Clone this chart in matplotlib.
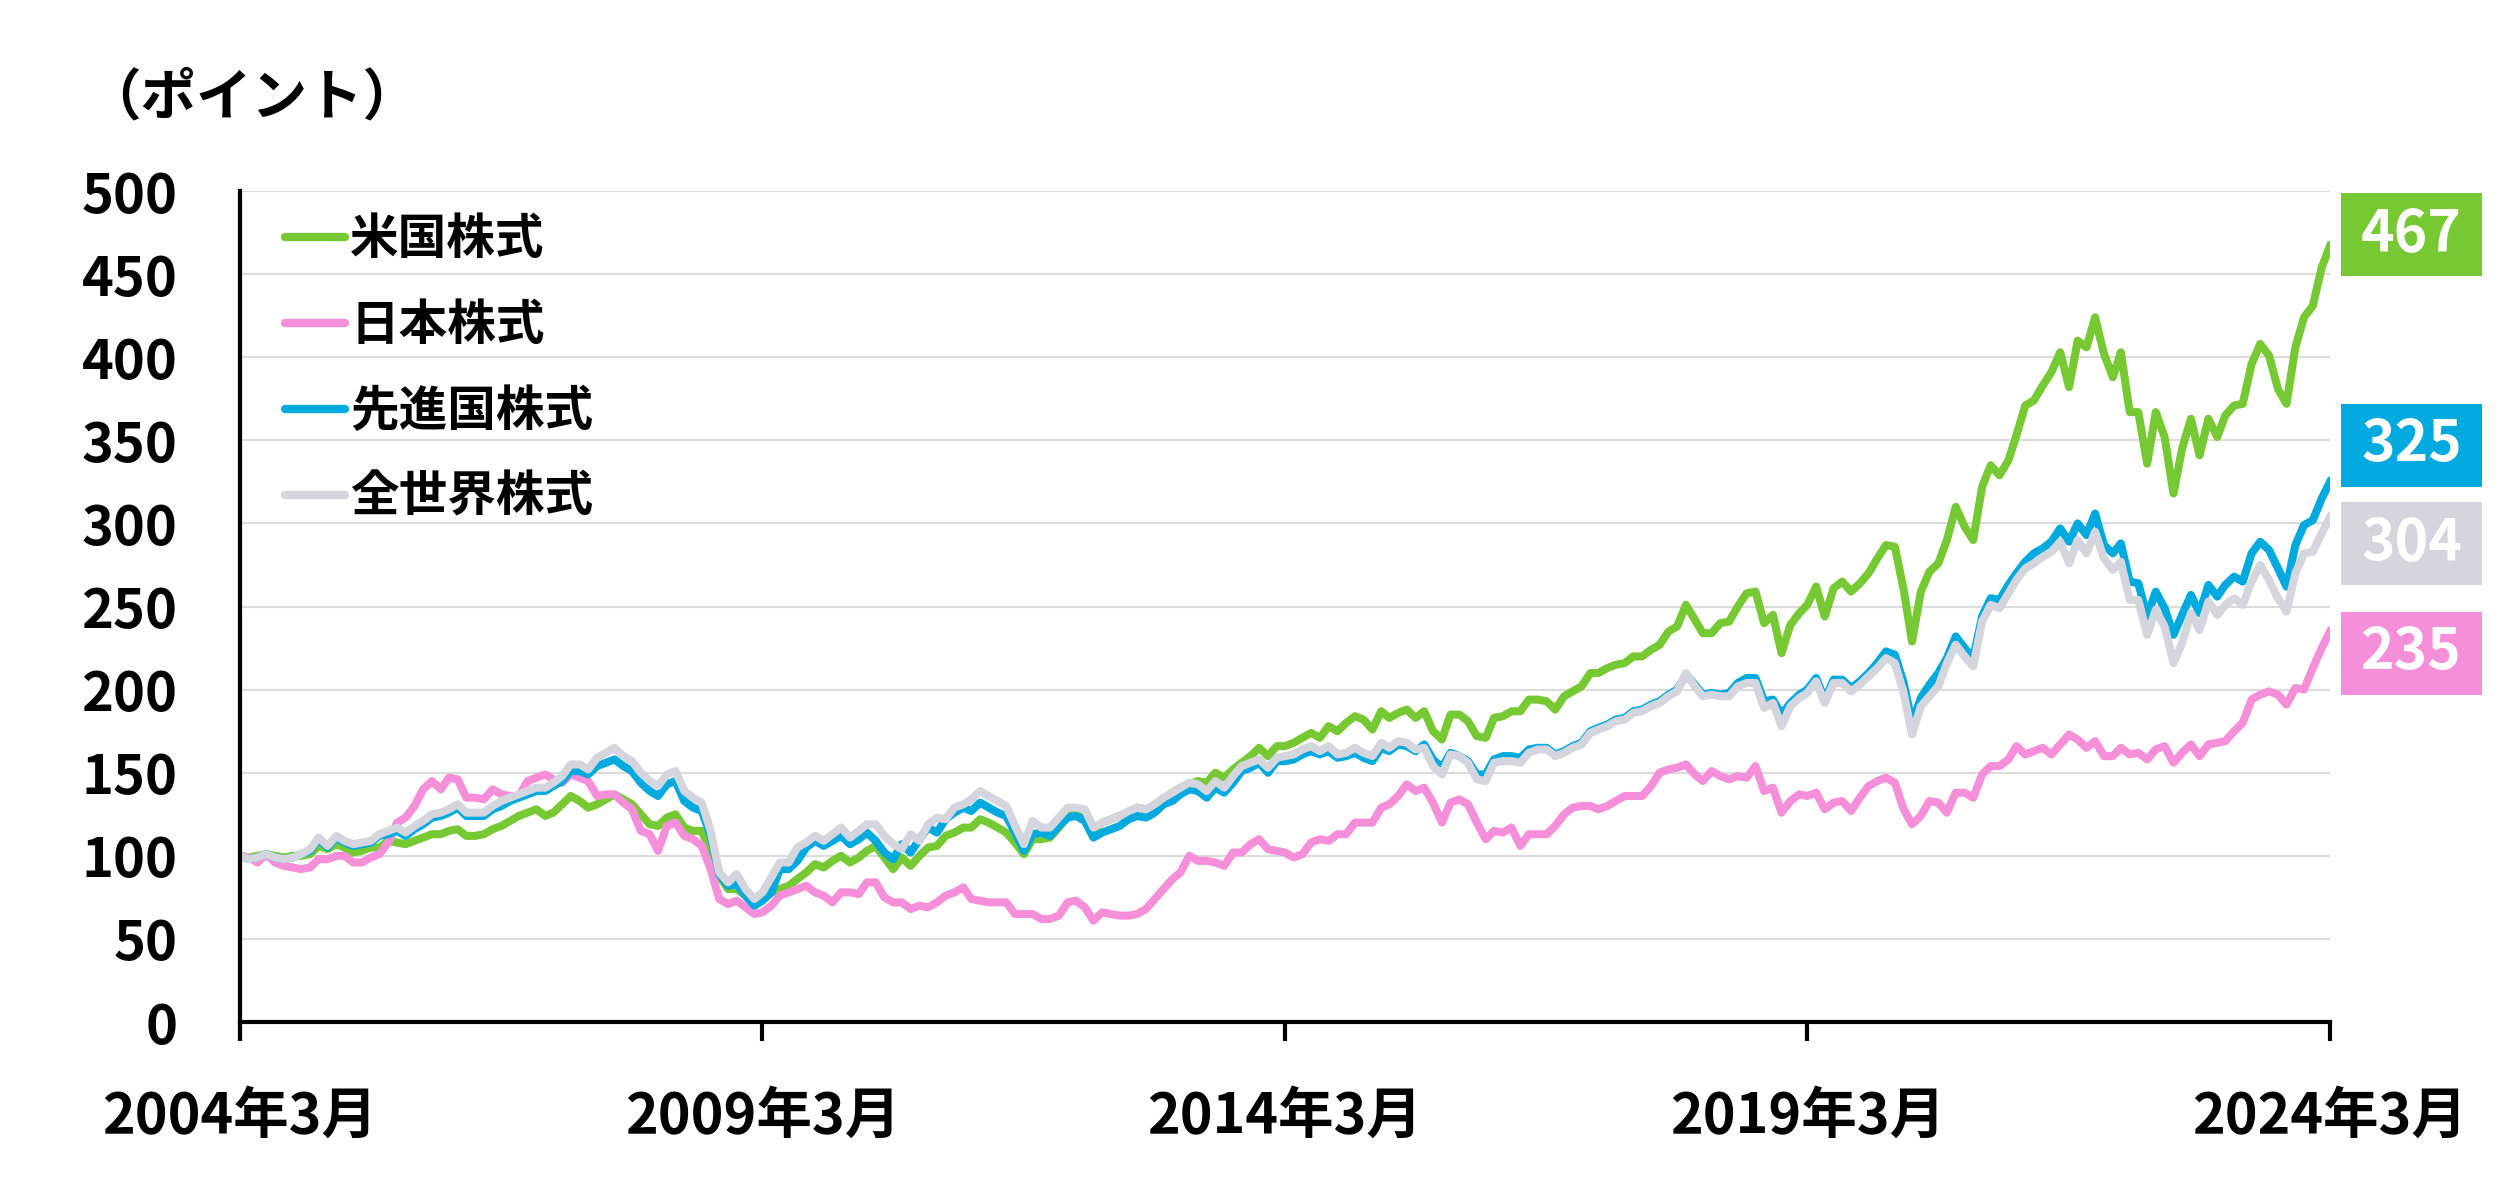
import matplotlib
matplotlib.use('Agg')
import matplotlib.pyplot as plt
import matplotlib.transforms as mtransforms
from matplotlib.patches import Rectangle
from matplotlib.lines import Line2D
import pandas as pd

plt.rcParams['font.family'] = ['Noto Sans CJK JP', 'DejaVu Sans']
plt.rcParams['font.weight'] = 'bold'

# monthly index values, 2004/03 = 100 (one row = one year from March)
us = [100, 99, 100, 101, 100, 99, 100, 100, 101, 106, 104, 107,
      105, 102, 103, 105, 105, 109, 108, 107, 109, 111, 113, 113,
      115, 116, 112, 112, 113, 116, 118, 121, 124, 126, 128, 124,
      126, 131, 136, 133, 129, 131, 134, 137, 134, 131, 125, 119,
      118, 123, 125, 117, 115, 115, 102, 88, 80, 80, 76, 71,
      74, 78, 80, 82, 86, 90, 95, 93, 97, 100, 96, 99,
      103, 106, 99, 92, 99, 94, 100, 105, 106, 112, 114, 117,
      117, 122, 120, 117, 114, 108, 101, 110, 110, 111, 117, 124,
      125, 122, 116, 120, 122, 124, 126, 129, 128, 130, 134, 138,
      141, 143, 145, 144, 150, 147, 152, 156, 160, 165, 160, 166,
      166, 168, 171, 174, 171, 178, 175, 180, 184, 182, 176, 187,
      183, 186, 188, 183, 187, 175, 170, 185, 185, 181, 172, 171,
      183, 184, 187, 187, 194, 194, 193, 188, 196, 199, 202, 210,
      210, 213, 215, 216, 220, 220, 224, 227, 235, 238, 251, 242,
      234, 234, 240, 241, 250, 258, 259, 240, 245, 222, 239, 246,
      251, 262, 244, 261, 265, 259, 264, 270, 279, 287, 286, 260,
      229, 259, 271, 276, 290, 310, 298, 290, 322, 335, 329, 338,
      353, 371, 374, 383, 391, 403, 382, 410, 406, 424, 402, 388,
      403, 367, 367, 336, 367, 352, 318, 345, 363, 341, 363, 352,
      365, 371, 372, 396, 408, 401, 381, 372, 406, 424, 431, 454,
      467]

japan = [100, 99, 96, 101, 96, 94, 93, 92, 93, 98, 98, 100,
         100, 96, 96, 99, 101, 108, 120, 123, 130, 140, 145, 140,
         147, 146, 135, 135, 134, 140, 137, 136, 136, 145, 147, 149,
         146, 144, 149, 147, 145, 136, 137, 137, 132, 128, 115, 113,
         103, 118, 120, 112, 110, 106, 92, 74, 71, 73, 69, 65,
         66, 70, 76, 78, 80, 82, 78, 76, 72, 78, 78, 77,
         84, 84, 75, 72, 72, 68, 70, 69, 72, 76, 78, 81,
         74, 73, 72, 72, 72, 65, 65, 65, 62, 62, 64, 72,
         73, 69, 61, 66, 65, 64, 64, 65, 68, 74, 80, 86,
         90, 100, 97, 97, 96, 94, 102, 102, 107, 110, 104, 103,
         102, 99, 101, 108, 110, 109, 113, 113, 120, 120, 120, 129,
         131, 136, 143, 139, 141, 132, 120, 132, 134, 131, 120, 110,
         115, 114, 117, 106, 113, 113, 113, 118, 125, 129, 130, 130,
         128, 130, 133, 136, 136, 136, 142, 150, 152, 153, 155, 149,
         145, 151, 148, 146, 148, 147, 154, 139, 141, 126, 133, 137,
         136, 138, 128, 132, 133, 127, 135, 142, 145, 147, 144, 128,
         119, 124, 133, 132, 126, 138, 138, 135, 149, 154, 154, 158,
         166, 161, 163, 165, 161, 167, 173, 170, 165, 169, 160, 160,
         165, 161, 162, 158, 164, 166, 156, 162, 167, 160, 167, 168,
         169, 175, 180, 194, 197, 199, 197, 191, 201, 200, 213, 225,
         235]

developed = [100, 98, 99, 101, 99, 98, 99, 101, 103, 110, 105, 111,
             108, 106, 107, 108, 112, 113, 115, 112, 116, 119, 123, 124,
             126, 129, 124, 124, 124, 128, 130, 133, 135, 137, 139, 139,
             142, 145, 151, 151, 149, 154, 156, 158, 154, 151, 144, 139,
             136, 143, 145, 133, 129, 127, 112, 89, 82, 83, 76, 70,
             73, 78, 92, 92, 97, 105, 109, 106, 109, 112, 107, 110,
             114, 109, 102, 98, 107, 102, 110, 117, 114, 122, 126, 129,
             127, 132, 129, 126, 124, 114, 103, 113, 114, 112, 118, 123,
             124, 121, 111, 114, 116, 118, 122, 124, 123, 126, 131, 133,
             137, 140, 139, 135, 141, 138, 144, 151, 153, 156, 150, 157,
             157, 158, 161, 163, 161, 163, 159, 160, 162, 159, 157, 165,
             163, 167, 166, 163, 167, 158, 153, 162, 160, 157, 149, 149,
             158, 160, 160, 159, 164, 165, 165, 161, 163, 166, 168, 175,
             177, 179, 182, 183, 187, 188, 191, 193, 197, 200, 209, 203,
             197, 198, 197, 198, 204, 207, 207, 193, 194, 185, 192, 197,
             200, 207, 194, 206, 206, 201, 205, 210, 216, 223, 221, 204,
             180, 195, 203, 210, 219, 232, 225, 219, 244, 255, 254, 263,
             270, 277, 282, 285, 289, 297, 289, 300, 293, 306, 287, 282,
             288, 265, 264, 244, 259, 249, 233, 245, 257, 246, 263, 256,
             263, 268, 265, 282, 289, 284, 273, 262, 287, 299, 302, 315,
             325]

world = [100, 98, 99, 101, 99, 98, 99, 101, 104, 111, 106, 112,
         109, 107, 108, 109, 113, 115, 117, 114, 118, 121, 125, 126,
         128, 131, 126, 126, 126, 130, 133, 135, 137, 139, 141, 141,
         144, 148, 155, 155, 152, 159, 162, 165, 160, 157, 150, 145,
         142, 149, 151, 139, 135, 132, 115, 90, 84, 89, 80, 74,
         78, 87, 96, 96, 105, 108, 112, 109, 113, 117, 111, 115,
         119, 119, 112, 107, 104, 113, 109, 119, 123, 122, 129, 131,
         134, 139, 136, 133, 130, 118, 107, 121, 117, 117, 123, 129,
         129, 128, 117, 120, 122, 124, 127, 129, 128, 131, 135, 138,
         141, 144, 143, 139, 145, 141, 148, 154, 156, 158, 153, 159,
         160, 161, 164, 166, 163, 166, 161, 162, 165, 162, 160, 168,
         165, 169, 168, 164, 165, 154, 149, 161, 160, 156, 146, 145,
         156, 157, 157, 156, 162, 164, 164, 160, 162, 165, 167, 174,
         176, 178, 181, 182, 186, 187, 190, 192, 196, 199, 210, 202,
         196, 197, 196, 196, 202, 204, 204, 189, 192, 178, 190, 195,
         198, 205, 192, 204, 204, 199, 203, 208, 213, 219, 216, 198,
         173, 190, 196, 202, 216, 227, 220, 214, 241, 251, 249, 258,
         266, 273, 276, 280, 283, 289, 276, 290, 282, 295, 279, 272,
         277, 254, 254, 233, 248, 238, 216, 228, 246, 236, 253, 245,
         251, 255, 251, 265, 275, 266, 255, 247, 270, 282, 283, 294,
         304]

names = ['米国株式', '日本株式', '先進国株式', '全世界株式']
colors = ['#76c933', '#f58fd9', '#00aadf', '#d5d5dd']
end_labels = ['467', '235', '325', '304']
label_centers = [474, 222, 347, 288]   # y centre of the end boxes (boxes are spread out)
x_labels = ['2004年3月', '2009年3月', '2014年3月', '2019年3月', '2024年3月']

months = pd.date_range('2004-03-01', periods=len(us), freq='MS')

fig = plt.figure(figsize=(25, 11.87), dpi=100)
ax = fig.add_axes([0.096, 0.139, 0.836, 0.700])

# green and pink underneath, world on top
for vals, c in zip([us, japan, developed, world], colors):
    ax.plot(months, vals, color=c, lw=5.8, solid_joinstyle='round')

ax.set_xlim(months[0], months[-1])
ax.set_ylim(0, 500)
ax.set_yticks(range(0, 501, 50))
ax.set_xticks(months[::60])
ax.set_xticklabels(x_labels)

ax.grid(axis='y', color='#dcdcdc', lw=1.5)
ax.set_axisbelow(True)
for s in ['top', 'right']:
    ax.spines[s].set_visible(False)
for s in ['left', 'bottom']:
    ax.spines[s].set_linewidth(3)
    ax.spines[s].set_color('black')
ax.tick_params(axis='y', length=0, pad=45, labelsize=39)
ax.tick_params(axis='x', length=14, width=3, pad=34, labelsize=40)

# legend
handles = [Line2D([], [], color=c, lw=6, solid_capstyle='round') for c in colors]
ax.legend(handles, names, loc='upper left', bbox_to_anchor=(0.012, 0.995),
          frameon=False, fontsize=35, handlelength=1.25, handletextpad=0.1,
          labelspacing=0.76, borderaxespad=0)

# value boxes on the right
trans = mtransforms.blended_transform_factory(ax.transAxes, ax.transData)
for lab, yc, c in zip(end_labels, label_centers, colors):
    ax.add_patch(Rectangle((1.0053, yc - 25), 0.0675, 50, transform=trans,
                           facecolor=c, edgecolor='none', clip_on=False))
    ax.text(1.0053 + 0.0675 / 2, yc, lab, transform=trans, ha='center',
            va='center', color='white', fontsize=41, fontweight='bold')

fig.text(0.034, 0.917, '（ポイント）', fontsize=40, fontweight='bold',
         ha='left', va='center')

fig.savefig('out.png', dpi=100)
